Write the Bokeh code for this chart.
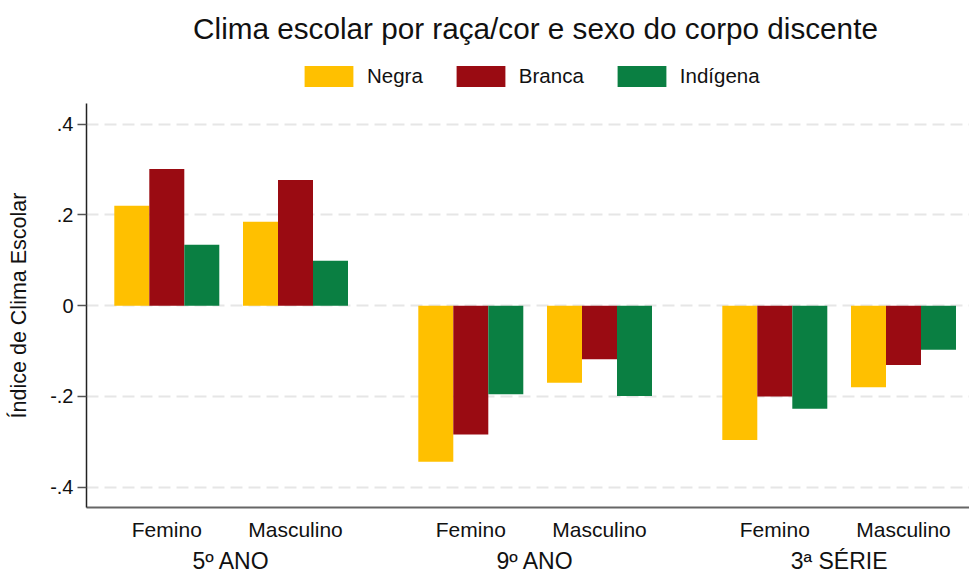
from bokeh.plotting import figure
from bokeh.layouts import column
from bokeh.models import (Range1d, FixedTicker, LinearAxis, Legend, LegendItem,
                          CustomJSTickFormatter)
from bokeh.embed import file_html
from bokeh.resources import INLINE

# ---- data ----
grades = ["5º ANO", "9º ANO", "3ª SÉRIE"]
sexes = ["Femino", "Masculino"]
races = ["Negra", "Branca", "Indígena"]
# order: 5º Fem, 5º Masc, 9º Fem, 9º Masc, 3ª Fem, 3ª Masc
negra = [0.220, 0.185, -0.344, -0.170, -0.296, -0.180]
branca = [0.301, 0.277, -0.284, -0.118, -0.200, -0.131]
indigena = [0.134, 0.099, -0.195, -0.199, -0.227, -0.097]
y_ticks = [-0.4, -0.2, 0, 0.2, 0.4]
colors = ["#FFC000", "#9A0B12", "#0A7F42"]

# ---- layout constants ----
FIRST = 166.3
SEX_STEP = 128.7
GRADE_STEP = 304.0
BAR_W = 35.0
FONT = "Liberation Sans"
TOP_H = 103

centers = [FIRST + g * GRADE_STEP + s * SEX_STEP
           for g in range(len(grades)) for s in range(len(sexes))]
grade_centers = [(centers[2 * g] + centers[2 * g + 1]) / 2 for g in range(len(grades))]

# ---------------- header (title + legend) ----------------
top = figure(width=969, height=TOP_H, x_range=Range1d(0, 1), y_range=Range1d(0, 1),
             x_axis_type=None, y_axis_type=None,
             output_backend="svg", toolbar_location=None,
             min_border_left=101, min_border_right=0, min_border_top=50,
             min_border_bottom=0)
if "frame_align" in top.properties():
    top.frame_align = False
top.outline_line_color = None
top.grid.visible = False
top.title.text = "Clima escolar por raça/cor e sexo do corpo discente"
top.title.text_font = FONT
top.title.text_font_size = "29.7px"
top.title.text_font_style = "normal"
top.title.text_color = "#111111"
top.title.align = "center"
top.title.standoff = 11

# legend-only renderers (placed outside the visible header range)
legend_renderers = [top.vbar(x=[2], top=[0], width=0.1, fill_color=c, line_color=None)
                    for c in colors]
legend = Legend(items=[LegendItem(label=races[i], renderers=[legend_renderers[i]])
                       for i in range(3)],
                orientation="horizontal", location=(197, 14.4),
                glyph_width=61, glyph_height=26, label_standoff=8, spacing=27,
                padding=0, margin=0, border_line_color=None,
                background_fill_alpha=0,
                label_text_font=FONT, label_text_font_size="20.5px",
                label_text_color="#111111")
top.add_layout(legend, "center")

# ---------------- main bar chart ----------------
p = figure(width=969, height=576 - TOP_H, x_range=Range1d(86, 969),
           y_range=Range1d(-0.4447, 0.4453),
           output_backend="svg", toolbar_location=None,
           min_border_left=86, min_border_right=0, min_border_top=0,
           min_border_bottom=67)
if "frame_align" in p.properties():
    p.frame_align = False
p.outline_line_color = None
p.background_fill_color = "white"
p.border_fill_color = "white"

for i, vals in enumerate([negra, branca, indigena]):
    xs = [c + (i - 1) * BAR_W for c in centers]
    p.vbar(x=xs, top=vals, bottom=0, width=BAR_W,
           fill_color=colors[i], line_color=None)

# grid
p.xgrid.visible = False
p.ygrid.ticker = FixedTicker(ticks=y_ticks)
p.ygrid.grid_line_color = "#e6e6e6"
p.ygrid.grid_line_width = 2
p.ygrid.grid_line_dash = "12 6"

# y axis
ya = p.yaxis[0]
ya.ticker = FixedTicker(ticks=y_ticks)
ya.formatter = CustomJSTickFormatter(
    code="if (tick == 0) { return '0'; } return tick.toFixed(1).replace('0.', '.');")
ya.major_tick_out = 9
ya.major_tick_in = 0
ya.minor_tick_line_color = None
ya.major_tick_line_color = "#555555"
ya.major_tick_line_width = 1.5
ya.axis_line_color = "#222222"
ya.axis_line_width = 1.5
ya.major_label_text_font = FONT
ya.major_label_text_font_size = "20px"
ya.major_label_text_color = "#111111"
ya.major_label_standoff = 4
ya.axis_label = "Índice de Clima Escolar"
ya.axis_label_text_font = FONT
ya.axis_label_text_font_size = "21.5px"
ya.axis_label_text_font_style = "normal"
ya.axis_label_text_color = "#111111"
ya.axis_label_standoff = 16

# x axis (sex labels)
xa = p.xaxis[0]
xa.ticker = FixedTicker(ticks=centers)
xa.major_label_overrides = {c: sexes[i % 2] for i, c in enumerate(centers)}
xa.major_tick_out = 0
xa.major_tick_in = 0
xa.major_tick_line_color = None
xa.minor_tick_line_color = None
xa.axis_line_color = "#666666"
xa.axis_line_width = 2
xa.major_label_text_font = FONT
xa.major_label_text_font_size = "21px"
xa.major_label_text_color = "#111111"
xa.major_label_standoff = 10

# second x axis (grade labels)
xa2 = LinearAxis(ticker=FixedTicker(ticks=grade_centers),
                 major_label_overrides={c: grades[i] for i, c in enumerate(grade_centers)})
xa2.axis_line_color = None
xa2.major_tick_line_color = None
xa2.minor_tick_line_color = None
xa2.major_tick_out = 0
xa2.major_tick_in = 0
xa2.major_label_text_font = FONT
xa2.major_label_text_font_size = "23px"
xa2.major_label_text_color = "#111111"
xa2.major_label_standoff = 4
p.add_layout(xa2, "below")

layout = column(top, p, spacing=0)
open("out.html", "w").write(file_html(layout, INLINE))
